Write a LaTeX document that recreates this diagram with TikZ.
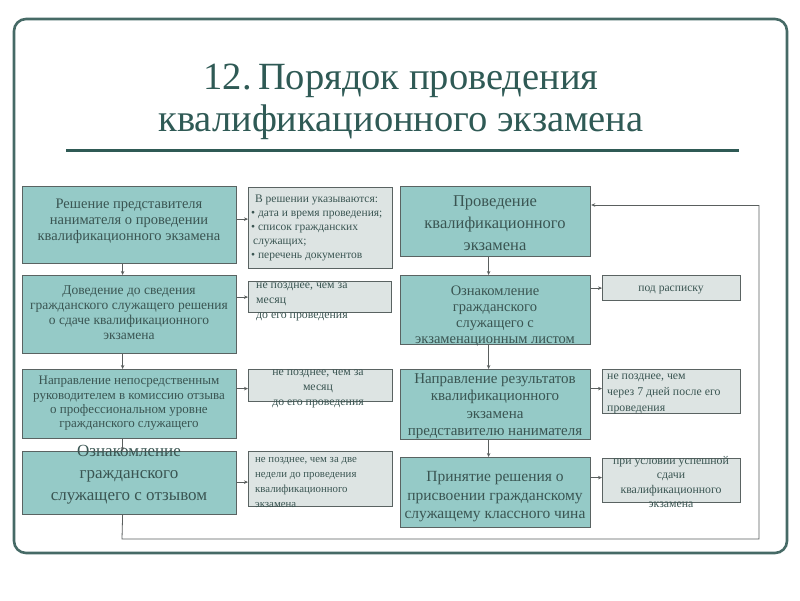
\documentclass[tikz,border=0pt]{standalone}
\usepackage{fontspec}
\setmainfont{Liberation Serif}
\usetikzlibrary{arrows.meta}
\definecolor{framec}{HTML}{466A66}
\definecolor{titlec}{HTML}{2F5A55}
\definecolor{tealf}{HTML}{95CAC7}
\definecolor{notef}{HTML}{DDE4E3}
\definecolor{boxline}{HTML}{5A6362}
\definecolor{txt}{HTML}{3A5552}
\definecolor{arrc}{HTML}{5A5F5E}
\newcommand{\fs}[2]{\fontsize{#1}{#2}\selectfont}
\begin{document}
\begin{tikzpicture}[x=1pt,y=-1pt,
  tbox/.style={draw=boxline, fill=tealf, line width=1.2pt, inner sep=0pt, anchor=north west},
  nbox/.style={draw=boxline, fill=notef, line width=1.2pt, inner sep=0pt, anchor=north west},
  lbl/.style={text=txt, inner sep=0pt, align=center},
  nlbl/.style={text=txt, inner sep=0pt, align=left},
  arr/.style={draw=arrc, line width=0.8pt, -{Stealth[length=4pt,width=3.5pt]}},
  ln/.style={draw=arrc, line width=0.8pt}]
\useasboundingbox (0,0) rectangle (800,600);
\fill[white] (0,0) rectangle (800,600);
% frame
\draw[framec, line width=2.6pt, rounded corners=12pt] (14,19) rectangle (787,553);
% title
\node[text=titlec, align=center, font=\fs{38.5}{42}] (title) at (401,102) {12.\,Порядок проведения\\квалификационного экзамена};
\draw[titlec, line width=3pt] (66,150) -- (739,150);
% left boxes
\node[tbox, minimum width=214pt, minimum height=77pt] (L1) at (22,186) {};
\node[tbox, minimum width=214pt, minimum height=78pt] (L2) at (22,275) {};
\node[tbox, minimum width=214pt, minimum height=69pt] (L3) at (22,369) {};
\node[tbox, minimum width=214pt, minimum height=63pt] (L4) at (22,451) {};
% left notes
\node[nbox, minimum width=144pt, minimum height=81pt] (N1) at (248,187) {};
\node[nbox, minimum width=143pt, minimum height=31pt] (N2) at (248,281) {};
\node[nbox, minimum width=144pt, minimum height=32pt] (N3) at (248,369) {};
\node[nbox, minimum width=144pt, minimum height=55pt] (N4) at (248,451) {};
% right boxes
\node[tbox, minimum width=190pt, minimum height=70pt] (R1) at (400,186) {};
\node[tbox, minimum width=190pt, minimum height=69pt] (R2) at (400,275) {};
\node[tbox, minimum width=190pt, minimum height=70pt] (R3) at (400,369) {};
\node[tbox, minimum width=190pt, minimum height=70pt] (R4) at (400,457) {};
% right notes
\node[nbox, minimum width=138pt, minimum height=25pt] (N5) at (602,275) {};
\node[nbox, minimum width=138pt, minimum height=44pt] (N6) at (602,369) {};
\node[nbox, minimum width=138pt, minimum height=44pt] (N7) at (602,458) {};
% labels
\node[lbl, font=\fs{14.5}{16}] (tL1) at (129,221) {Решение представителя\\нанимателя о проведении\\квалификационного экзамена};
\node[lbl, font=\fs{13.5}{15}] (tL2) at (129,313) {Доведение до сведения\\гражданского служащего решения\\о сдаче квалификационного\\экзамена};
\node[lbl, font=\fs{13}{14.3}] (tL3) at (129,403.5) {Направление непосредственным\\руководителем в комиссию отзыва\\о профессиональном уровне\\гражданского служащего};
\node[lbl, font=\fs{17}{22}] (tL4) at (129,475) {Ознакомление\\гражданского\\служащего с отзывом};
\node[lbl, font=\fs{16.5}{22}] (tR1) at (495,223) {Проведение\\квалификационного\\экзамена};
\node[lbl, font=\fs{14.5}{16}] (tR2) at (495,316) {Ознакомление\\гражданского\\служащего с\\экзаменационным листом};
\node[lbl, font=\fs{15}{17.5}] (tR3) at (495,406) {Направление результатов\\квалификационного\\экзамена\\представителю нанимателя};
\node[lbl, font=\fs{15.5}{18.5}] (tR4) at (495,497) {Принятие решения о\\присвоении гражданскому\\служащему классного чина};
% note labels
\node[nlbl, font=\fs{11.5}{14}, anchor=west] (tN1) at (251,228) {\hspace*{4pt}В решении указываются:\\• дата и время проведения;\\• список гражданских\\\hspace*{2pt}служащих;\\• перечень документов};
\node[nlbl, font=\fs{11.8}{15}, anchor=west] (tN2) at (256,302) {не позднее, чем за\\месяц\\до его проведения};
\node[lbl, font=\fs{11.8}{15}] (tN3) at (318,389) {не позднее, чем за\\месяц\\до его проведения};
\node[nlbl, font=\fs{10.8}{15}, anchor=west] (tN4) at (255,482) {не позднее, чем за две\\недели до проведения\\квалификационного\\экзамена};
\node[lbl, font=\fs{11.6}{12}] (tN5) at (671,290) {под расписку};
\node[nlbl, font=\fs{11.8}{16}, anchor=west] (tN6) at (607,394) {не позднее, чем\\через 7 дней после его\\проведения};
\node[lbl, font=\fs{11.8}{14.5}] (tN7) at (671,482) {при условии успешной\\сдачи\\квалификационного\\экзамена};
% vertical connectors
\draw[arr] ([xshift=-7pt]L1.south) -- ([xshift=-7pt]L2.north);
\draw[arr] ([xshift=-7pt]L2.south) -- ([xshift=-7pt]L3.north);
\draw[arr] ([xshift=-7pt]L3.south) -- ([xshift=-7pt]L4.north);
\draw[arr] ([xshift=-7pt]R1.south) -- ([xshift=-7pt]R2.north);
\draw[arr] ([xshift=-7pt]R2.south) -- ([xshift=-7pt]R3.north);
\draw[arr] ([xshift=-7pt]R3.south) -- ([xshift=-7pt]R4.north);
% horizontal connectors
\draw[arr] ([yshift=9pt]L1.east |- N1.west) -- ([yshift=9pt]N1.west);
\draw[arr] (L2.east |- N2.west) -- (N2.west);
\draw[arr] ([yshift=-3pt]L3.east |- N3.west) -- ([yshift=-3pt]N3.west);
\draw[arr] ([yshift=-3pt]L4.east |- N4.west) -- ([yshift=-3pt]N4.west);
\draw[arr] (R2.east |- N5.west) -- (N5.west);
\draw[arr] ([yshift=3pt]R3.east |- N6.west) -- ([yshift=3pt]N6.west);
\draw[arr] ([yshift=3pt]R4.east |- N7.west) -- ([yshift=3pt]N7.west);
% loop connector
\coordinate (lb) at (122,539);
\coordinate (rb) at (759,539);
\coordinate (rt) at (759,205);
\draw[ln] ([xshift=-7pt]L4.south) -- (lb) -- (rb) -- (rt);
\draw[arr] (rt) -- (R1.east |- rt);
\end{tikzpicture}
\end{document}
